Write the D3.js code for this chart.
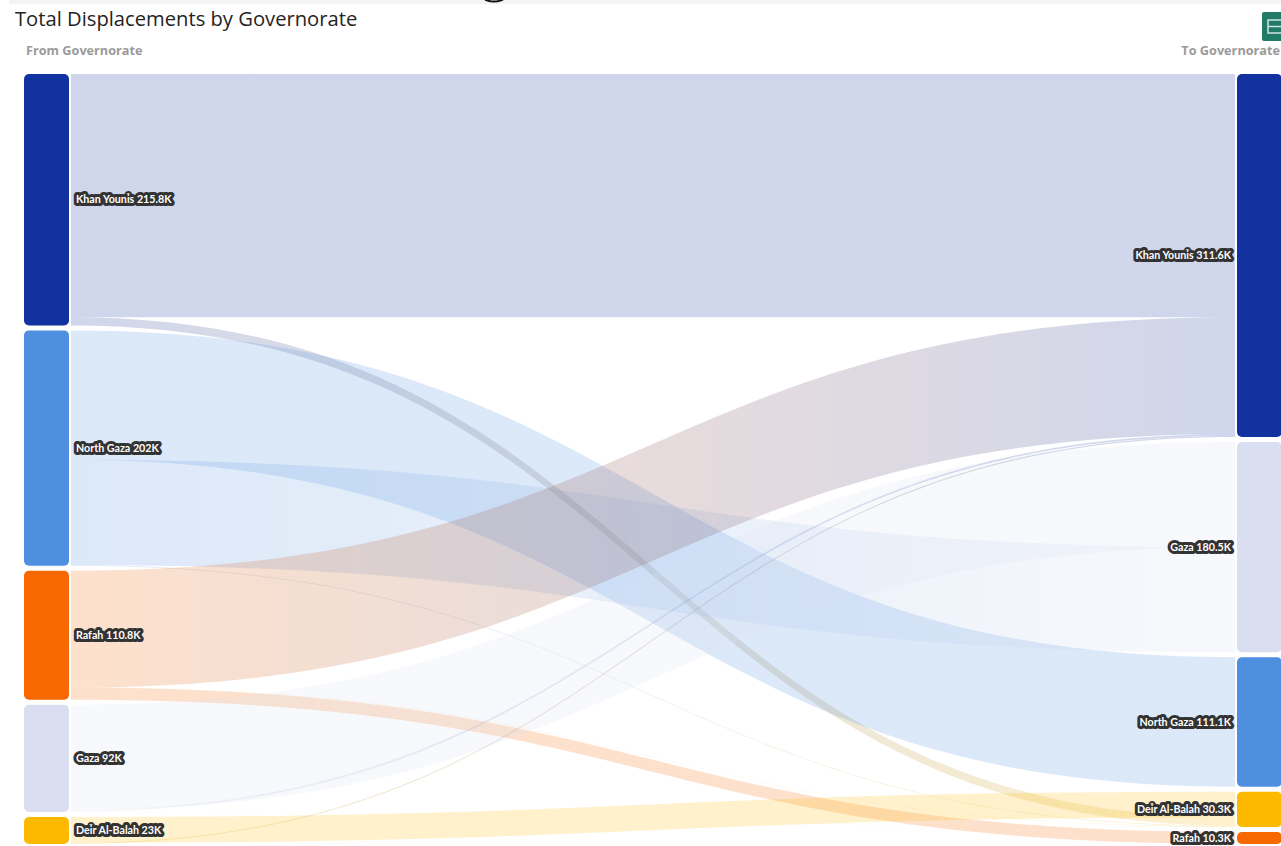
<!DOCTYPE html>
<html>
<head>
<meta charset="utf-8">
<script src="https://cdnjs.cloudflare.com/ajax/libs/d3/7.8.5/d3.min.js"></script>
<style>
  html, body { margin: 0; padding: 0; background: #fff; overflow: hidden; }
  svg { display: block; }
</style>
</head>
<body>
<svg id="chart" width="1281" height="846"></svg>
<script>
const width = 1281;
const height = 846;

const titleText = 'Total Displacements by Governorate';
const fromHeader = 'From Governorate';
const toHeader = 'To Governorate';

// nodes, top to bottom on each side
const fromNames = ['Khan Younis', 'North Gaza', 'Rafah', 'Gaza', 'Deir Al-Balah'];
const fromLabels = ['215.8K', '202K', '110.8K', '92K', '23K'];
const toNames = ['Khan Younis', 'Gaza', 'North Gaza', 'Deir Al-Balah', 'Rafah'];
const toLabels = ['311.6K', '180.5K', '111.1K', '30.3K', '10.3K'];

const colorNames = ['Khan Younis', 'North Gaza', 'Rafah', 'Gaza', 'Deir Al-Balah'];
const colorValues = ['#1232a0', '#4f8fe0', '#f76800', '#d9dff0', '#fdb900'];

// flows in the order they stack on the source side (thousands of people)
const flowFrom = ['Khan Younis', 'Khan Younis', 'North Gaza', 'North Gaza', 'North Gaza', 'Rafah', 'Rafah', 'Rafah', 'Gaza', 'Gaza', 'Gaza', 'Deir Al-Balah', 'Deir Al-Balah'];
const flowTo = ['Khan Younis', 'Deir Al-Balah', 'North Gaza', 'Gaza', 'Deir Al-Balah', 'Khan Younis', 'Deir Al-Balah', 'Rafah', 'Gaza', 'Khan Younis', 'Deir Al-Balah', 'Deir Al-Balah', 'Khan Younis'];
const flowValue = [208.7, 7.1, 111.1, 90.3, 0.6, 100.3, 0.2, 10.3, 90.2, 1.6, 0.2, 22.2, 1.0];

const flows = flowValue.map((value, i) => ({ from: flowFrom[i], to: flowTo[i], value, index: i }));

const nodeGap = 5;
const nodeTop = 74;
const nodeBottom = 844;
const total = d3.sum(flowValue);
const color = d3.scaleOrdinal().domain(colorNames).range(colorValues);
const yScale = d3.scaleLinear()
  .domain([0, total])
  .range([nodeTop, nodeBottom - nodeGap * (fromNames.length - 1)]);

const xLink = d3.scaleLinear().domain([0, 1]).range([71, 1235]);
const nodeWidth = 45;
const fromX = 24;
const toX = 1237;

// stack nodes down one side, returns {name: {y0, y1}}
function stackNodes(names, key) {
  const out = {};
  let sum = 0;
  names.forEach((name, i) => {
    const value = d3.sum(flows.filter(f => f[key] === name), f => f.value);
    out[name] = { name, value, y0: yScale(sum) + i * nodeGap, y1: yScale(sum + value) + i * nodeGap };
    sum += value;
  });
  return out;
}

const fromNodes = stackNodes(fromNames, 'from');
const toNodes = stackNodes(toNames, 'to');
const k = yScale(1) - yScale(0);

// source side keeps the listed order
const fromOffset = {};
flows.forEach(f => {
  const off = fromOffset[f.from] || 0;
  f.sy0 = fromNodes[f.from].y0 + off * k;
  f.sy1 = f.sy0 + f.value * k;
  fromOffset[f.from] = off + f.value;
});

// target side: the flow that stays in place first, then by source order
toNames.forEach(name => {
  let off = 0;
  const incoming = flows.filter(f => f.to === name)
    .sort((a, b) => (b.from === name) - (a.from === name) || fromNames.indexOf(a.from) - fromNames.indexOf(b.from));
  incoming.forEach(f => {
    f.ty0 = toNodes[name].y0 + off * k;
    f.ty1 = f.ty0 + f.value * k;
    off += f.value;
  });
});

function ribbon(f) {
  const x0 = xLink(0), x1 = xLink(1), xm = xLink(0.5);
  const p = d3.path();
  p.moveTo(x0, f.sy0);
  p.bezierCurveTo(xm, f.sy0, xm, f.ty0, x1, f.ty0);
  p.lineTo(x1, f.ty1);
  p.bezierCurveTo(xm, f.ty1, xm, f.sy1, x0, f.sy1);
  p.closePath();
  return p.toString();
}

const svg = d3.select('#chart');
const defs = svg.append('defs');

flows.forEach(f => {
  const grad = defs.append('linearGradient')
    .attr('id', `grad${f.index}`)
    .attr('gradientUnits', 'userSpaceOnUse')
    .attr('x1', xLink(0)).attr('x2', xLink(1))
    .attr('y1', 0).attr('y2', 0);
  grad.append('stop').attr('offset', '0%').attr('stop-color', color(f.from)).attr('stop-opacity', 0.2);
  grad.append('stop').attr('offset', '100%').attr('stop-color', color(f.to)).attr('stop-opacity', 0.2);
});

// faint shadow of the page header above the visual
svg.append('rect').attr('x', 9).attr('y', 0).attr('width', width).attr('height', 4).attr('fill', '#f4f4f4');
// cut-off descender of the page heading
svg.append('ellipse').attr('cx', 494).attr('cy', -2.5).attr('rx', 10).attr('ry', 4)
  .attr('fill', 'none').attr('stroke', '#111').attr('stroke-width', 2);

svg.append('g')
  .selectAll('path')
  .data(flows)
  .join('path')
  .attr('class', 'link')
  .attr('d', ribbon)
  .attr('fill', f => `url(#grad${f.index})`);

const nodeData = [
  ...fromNames.map(n => ({ side: 'from', ...fromNodes[n] })),
  ...toNames.map(n => ({ side: 'to', ...toNodes[n] }))
];

svg.append('g')
  .selectAll('rect')
  .data(nodeData)
  .join('rect')
  .attr('x', d => d.side === 'from' ? fromX : toX)
  .attr('y', d => d.y0)
  .attr('width', nodeWidth)
  .attr('height', d => d.y1 - d.y0)
  .attr('rx', 5)
  .attr('fill', d => color(d.name));

svg.append('g')
  .selectAll('text')
  .data(nodeData)
  .join('text')
  .attr('x', d => d.side === 'from' ? 76 : 1231)
  .attr('y', d => (d.y0 + d.y1) / 2)
  .attr('dy', '0.35em')
  .attr('text-anchor', d => d.side === 'from' ? 'start' : 'end')
  .attr('font-family', 'Lato, sans-serif')
  .attr('font-size', 10.7)
  .attr('font-weight', 700)
  .attr('fill', '#fff')
  .attr('stroke', '#333')
  .attr('stroke-width', 6)
  .attr('stroke-linejoin', 'round')
  .attr('paint-order', 'stroke')
  .text(d => {
    const label = d.side === 'from' ? fromLabels[fromNames.indexOf(d.name)] : toLabels[toNames.indexOf(d.name)];
    return `${d.name} ${label}`;
  });

svg.append('text')
  .attr('x', 15).attr('y', 26)
  .attr('font-family', '"Open Sans", sans-serif')
  .attr('font-size', 20.2)
  .attr('fill', '#252423')
  .text(titleText);

svg.append('text')
  .attr('x', 26).attr('y', 55)
  .attr('font-family', '"Open Sans", sans-serif')
  .attr('font-size', 12.7)
  .attr('font-weight', 700)
  .attr('fill', '#9a9a9a')
  .text(fromHeader);

svg.append('text')
  .attr('x', 1280).attr('y', 55)
  .attr('text-anchor', 'end')
  .attr('font-family', '"Open Sans", sans-serif')
  .attr('font-size', 12.7)
  .attr('font-weight', 700)
  .attr('fill', '#9a9a9a')
  .text(toHeader);

// export icon, top right
const icon = svg.append('g');
icon.append('rect').attr('x', 1262).attr('y', 12).attr('width', 24).attr('height', 29).attr('rx', 2).attr('fill', '#217a66');
icon.append('rect').attr('x', 1268).attr('y', 20).attr('width', 20).attr('height', 13).attr('fill', 'none').attr('stroke', '#cfe5df').attr('stroke-width', 1.5);
icon.append('line').attr('x1', 1268).attr('x2', 1288).attr('y1', 26.5).attr('y2', 26.5).attr('stroke', '#cfe5df').attr('stroke-width', 1.5);
</script>
</body>
</html>
